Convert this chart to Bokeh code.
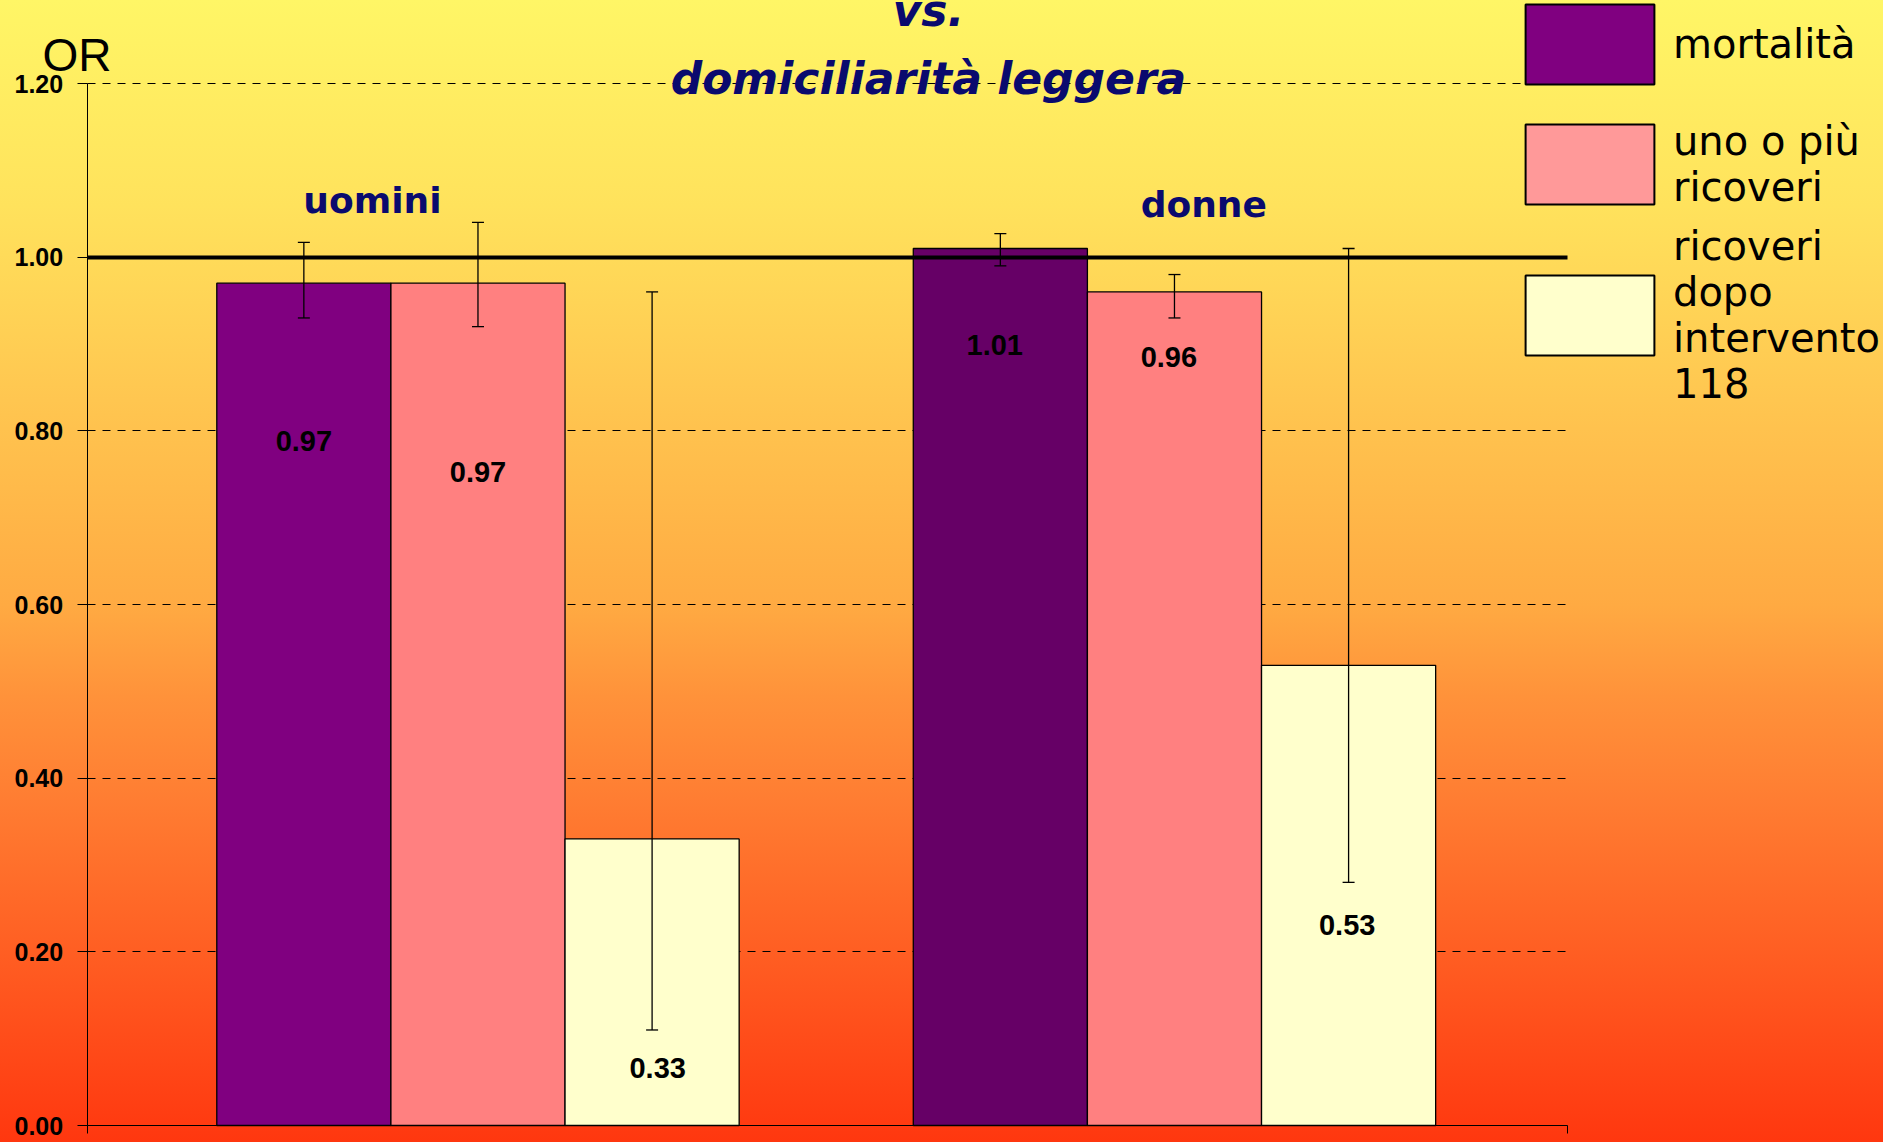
from bokeh.plotting import figure
from bokeh.models import (ColumnDataSource, Whisker, TeeHead, Label, Legend, Grid,
                          LegendItem, FixedTicker, NumeralTickFormatter, Range1d,
                          GlobalInlineStyleSheet)
from bokeh.embed import file_html
from bokeh.resources import INLINE
from bokeh.core.properties import value

# ---------------- data ----------------
groups = ["uomini", "donne"]
series = ["mortalità", "uno o più ricoveri", "ricoveri dopo intervento 118"]
legend_labels = ["mortalità", "uno o più\nricoveri", "ricoveri\ndopo\nintervento\n118"]

or_uomini = [0.97, 0.97, 0.33]
or_donne = [1.01, 0.96, 0.53]
low_uomini = [0.93, 0.92, 0.11]
high_uomini = [1.017, 1.04, 0.96]
low_donne = [0.99, 0.93, 0.28]
high_donne = [1.027, 0.98, 1.01]
text_uomini = ["0.97", "0.97", "0.33"]
text_donne = ["1.01", "0.96", "0.53"]
y_ticks = [0.0, 0.2, 0.4, 0.6, 0.8, 1.0, 1.2]
ref_value = [1.0]

title_lines = ["vs.", "domiciliarità leggera"]
y_label = "OR"

# ---------------- layout / style ----------------
W, H = 1883, 1142
AX_LEFT, AX_RIGHT = 86.67, 1567.0      # px of plot area edges
Y_TOP_PX, Y_BOT_PX = 83.0, 1125.0      # px of 1.20 and 0.00
x_start, x_end = 0.4389, 2.5643
y_start, y_end = 0.0, 1.2
ppx = (AX_RIGHT - AX_LEFT) / (x_end - x_start)
ppy = (Y_BOT_PX - Y_TOP_PX) / (y_end - y_start)
x_left = x_start - AX_LEFT / ppx
x_right = x_end + (W - AX_RIGHT) / ppx
y_bottom = y_start - (H - Y_BOT_PX) / ppy
y_top = y_end + Y_TOP_PX / ppy

label_y_uomini = [0.788, 0.753, 0.066]
label_y_donne = [0.899, 0.885, 0.231]
label_dx_uomini = [0.0, 0.0, 0.008]
label_dx_donne = [-0.008, -0.008, -0.002]
colors_uomini = ["#800080", "#FF8080", "#FFFFCC"]
colors_donne = ["#660066", "#FF8080", "#FFFFCC"]
legend_colors = ["#800080", "#FF9999", "#FFFFCC"]
bar_w = 0.25
offsets = [-0.25, 0.0, 0.25]

xs, tops, lows, highs, cols, ly, lx, txt = [], [], [], [], [], [], [], []
for gi, (vals, lo, hi, cc, lyy, ldx, tt) in enumerate([
        (or_uomini, low_uomini, high_uomini, colors_uomini, label_y_uomini,
         label_dx_uomini, text_uomini),
        (or_donne, low_donne, high_donne, colors_donne, label_y_donne,
         label_dx_donne, text_donne)]):
    for si in range(3):
        xs.append(gi + 1 + offsets[si])
        tops.append(vals[si])
        lows.append(lo[si])
        highs.append(hi[si])
        cols.append(cc[si])
        ly.append(lyy[si])
        lx.append(gi + 1 + offsets[si] + ldx[si])
        txt.append(tt[si])

src = ColumnDataSource(dict(x=xs, top=tops, lower=lows, upper=highs, color=cols,
                            ly=ly, lx=lx, txt=txt))

p = figure(width=W, height=H, output_backend="svg", toolbar_location=None,
           x_range=Range1d(x_left, x_right), y_range=Range1d(y_bottom, y_top),
           min_border=0, min_border_left=0, min_border_right=0,
           min_border_top=0, min_border_bottom=0)
p.background_fill_alpha = 0
p.border_fill_alpha = 0
p.outline_line_color = None

css = ("html { height: 100%; background: linear-gradient(to bottom, "
       "#FFF666 0%, #FFE25C 18%, #FFC650 35%, #FFAA42 53%, #FF923A 61%, "
       "#FF7D32 70%, #FF5F23 83%, #FF370F 100%) no-repeat; }"
       " body { background: transparent; }")
p.stylesheets = [GlobalInlineStyleSheet(css=css)]

has_cross = "cross_bounds" in Grid.properties()

# grid lines (dashed)
p.xgrid.grid_line_color = None
p.ygrid.ticker = FixedTicker(ticks=y_ticks)
p.ygrid.grid_line_color = "black"
p.ygrid.grid_line_dash = "8 7"
p.ygrid.grid_line_width = 1
p.ygrid.bounds = (y_start - 1e-6, y_end + 1e-6)
if has_cross:
    p.ygrid.cross_bounds = (x_start, x_end)
else:
    p.ygrid.grid_line_color = None
    p.multi_line(xs=[[x_start, x_end] for _ in y_ticks], ys=[[t, t] for t in y_ticks],
                 line_color="black", line_dash="8 7", line_width=1, level="underlay")

# bars
p.vbar(x="x", top="top", width=bar_w, bottom=0, source=src, fill_color="color",
       line_color="black", line_width=1.3)

# reference line at 1
if has_cross:
    ref = Grid(dimension=1, ticker=FixedTicker(ticks=ref_value), grid_line_color="black",
               grid_line_width=4, level="annotation", cross_bounds=(x_start, x_end))
    p.add_layout(ref)
else:
    p.segment(x0=[x_start], x1=[x_end], y0=ref_value, y1=ref_value, line_color="black",
              line_width=4, level="annotation")

# error bars
wh = Whisker(base="x", upper="upper", lower="lower", source=src,
             line_color="black", line_width=1.3, level="overlay",
             upper_head=TeeHead(size=12, line_color="black", line_width=1.3),
             lower_head=TeeHead(size=12, line_color="black", line_width=1.3))
p.add_layout(wh)

# data labels
p.text(x="lx", y="ly", text="txt", source=src, text_align="center",
       text_baseline="middle", text_font=value("Liberation Sans"),
       text_font_style="bold", text_font_size="29px", text_color="black")

# axes
yax = p.yaxis[0]
yax.fixed_location = x_start
yax.bounds = (y_start, y_end)
yax.ticker = FixedTicker(ticks=y_ticks)
yax.formatter = NumeralTickFormatter(format="0.00")
yax.major_label_text_font = "Liberation Sans"
yax.major_label_text_font_style = "bold"
yax.major_label_text_font_size = "25px"
yax.major_label_text_color = "black"
yax.major_label_standoff = 14
yax.major_tick_out = 10
yax.major_tick_in = 0
yax.minor_tick_line_color = None
yax.axis_line_color = "black"

xax = p.xaxis[0]
xax.fixed_location = y_start
xax.bounds = (x_start, x_end)
xax.ticker = FixedTicker(ticks=[x_start + 1e-6, x_end - 1e-6])
xax.major_label_text_color = None
xax.major_label_standoff = 0
xax.major_tick_out = 8
xax.major_tick_in = 0
xax.minor_tick_line_color = None
xax.axis_line_color = "black"

# texts
navy = "#0a0a6e"
p.add_layout(Label(x=1.6468, y=1.2838, text=title_lines[0], text_align="center",
                   text_baseline="middle", text_font="DejaVu Sans",
                   text_font_style="bold italic", text_font_size="44px",
                   text_color=navy))
p.add_layout(Label(x=1.6468, y=1.2055, text=title_lines[1], text_align="center",
                   text_baseline="middle", text_font="DejaVu Sans",
                   text_font_style="bold italic", text_font_size="44px",
                   text_color=navy))
group_pos = [(0.8485, 1.065), (2.042, 1.0605)]
for g, (gx, gy) in zip(groups, group_pos):
    p.add_layout(Label(x=gx, y=gy, text=g, text_align="center", text_baseline="middle",
                       text_font="DejaVu Sans", text_font_style="bold",
                       text_font_size="36px", text_color=navy))
p.add_layout(Label(x=0.3747, y=1.2332, text=y_label, text_align="left",
                   text_baseline="middle", text_font="Liberation Sans",
                   text_font_size="46px", text_color="black"))

# legends (one per series, placed like the original); the legend swatch
# renderers are hidden so only the legend draws them
leg_loc = [(1509, 1048), (1509, 928), (1509, 735)]
for si, (lab, col, loc) in enumerate(zip(legend_labels, legend_colors, leg_loc)):
    r = p.vbar(x=[xs[si]], top=[tops[si]], width=bar_w, fill_color=col,
               line_color="black", line_width=2, visible=False)
    leg = Legend(items=[LegendItem(label=lab, renderers=[r])], location=loc,
                 glyph_width=161, glyph_height=100, label_standoff=3, padding=0,
                 margin=0, spacing=0, border_line_alpha=0, background_fill_alpha=0,
                 inactive_fill_alpha=0,
                 label_text_font="DejaVu Sans", label_text_font_size="40px",
                 label_text_line_height=1.25, label_text_color="black")
    p.add_layout(leg)

open("out.html", "w").write(file_html(p, INLINE))
